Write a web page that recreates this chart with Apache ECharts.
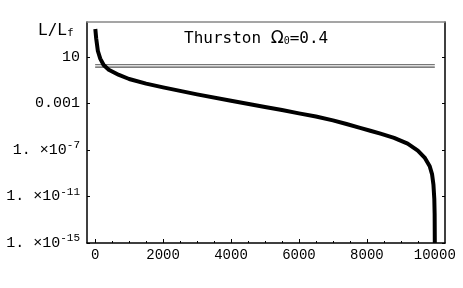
<!DOCTYPE html>
<html><head><meta charset="utf-8">
<script src="https://cdn.jsdelivr.net/npm/echarts@6/dist/echarts.min.js"></script>
<style>html,body{margin:0;padding:0;background:#fff}#c{width:463px;height:288px}</style>
</head><body><div id="c"></div>
<script>
// ---- data ----
const curveX = [5, 30, 80, 150, 250, 400, 700, 1000, 1500, 2000, 3000, 4000, 5000, 5500, 6000, 6500, 7000, 7400, 7800, 8100, 8400, 8800, 9200, 9500, 9700, 9850, 9920, 9960, 9985, 9995, 10000];
const curveL = [2.5e3, 4.0e2, 32, 7.1, 2.0, 0.79, 0.28, 0.126, 0.05, 0.024, 6.0e-3, 1.7e-3, 5.0e-4, 2.7e-4, 1.4e-4, 7.4e-5, 3.5e-5, 1.7e-5, 7.9e-6, 4.5e-6, 2.5e-6, 1.1e-6, 3.5e-7, 8.9e-8, 2.2e-8, 4.0e-9, 7.9e-10, 1.0e-10, 6.3e-12, 3.2e-13, 1.0e-15];
const refX = [0, 10000];
const refUpperL = [2.2, 2.2];
const refLowerL = [1.3, 1.3];
const xTickValues = [0, 2000, 4000, 6000, 8000, 10000];
const xMinorStep = 500;
const yTickValues = [1e-15, 1e-11, 1e-7, 1e-3, 10];
const yAxisName = 'L/L';
const yAxisSub = 'f';
const titleMain = 'Thurston ';
const titleOmega = 'Ω';
const titleSub = '0';
const titleTail = '=0.4';

// ---- build ----
const lg = v => Math.log10(v);
const pairs = (xs, ys) => xs.map((x, i) => [x, lg(ys[i])]);
const yTickExp = yTickValues.map(v => Math.round(lg(v)));
const xMinor = [];
for (let v = xTickValues[0]; v <= xTickValues[xTickValues.length - 1]; v += xMinorStep) xMinor.push(v);

const mono = 'Liberation Mono';
function yFmt(e) {
  e = Math.round(e);
  if (e === 1) return '{b|10}';
  if (e === -3) return '{b|0.001}';
  return '{b|1. ×10}{s|' + e + '}';
}
const chart = echarts.init(document.getElementById('c'), null, {renderer: 'canvas'});
const X = {min: -240, max: 10300};
const Y = {min: -15, max: 4};
chart.setOption({
  animation: false,
  backgroundColor: '#fff',
  grid: {left: 87, right: 18, top: 22, bottom: 45},
  title: {
    text: '{a|' + titleMain + '}{o|' + titleOmega + '}{s|' + titleSub + '}{a|' + titleTail + '}',
    left: 184, top: 30, padding: 0,
    textStyle: {
      fontWeight: 'normal',
      rich: {
        a: {fontFamily: 'DejaVu Sans Mono', fontSize: 16, fontWeight: 'normal', color: '#000'},
        o: {fontFamily: 'DejaVu Sans', fontSize: 17, fontWeight: 'normal', color: '#000'},
        s: {fontFamily: 'DejaVu Sans Mono', fontSize: 10, fontWeight: 'normal', color: '#000', padding: [6, 0, 0, 0]}
      }
    }
  },
  graphic: [{
    type: 'text', left: 38, top: 23,
    style: {
      text: '{a|' + yAxisName + '}{s|' + yAxisSub + '}',
      rich: {
        a: {fontFamily: 'DejaVu Sans Mono', fontSize: 16, fill: '#000'},
        s: {fontFamily: 'DejaVu Sans Mono', fontSize: 11, fill: '#000', padding: [5, 0, 0, 0]}
      }
    }
  }],
  xAxis: [{
    type: 'value', position: 'bottom', min: X.min, max: X.max,
    splitLine: {show: false},
    axisLine: {show: true, onZero: false, lineStyle: {color: '#000', width: 1.5}},
    axisTick: {show: true, inside: true, length: 2, customValues: xMinor, lineStyle: {color: '#000'}},
    axisLabel: {show: true, customValues: xTickValues, margin: 5, fontFamily: mono, fontSize: 14, color: '#000',
      formatter: v => String(Math.round(v))}
  }, {
    type: 'value', position: 'bottom', min: X.min, max: X.max,
    splitLine: {show: false},
    axisLine: {show: false, onZero: false},
    axisTick: {show: true, inside: true, length: 4, customValues: xTickValues, lineStyle: {color: '#000'}},
    axisLabel: {show: false}
  }, {
    type: 'value', position: 'top', min: X.min, max: X.max,
    splitLine: {show: false},
    axisLine: {show: true, onZero: false, lineStyle: {color: '#888', width: 1.5}},
    axisTick: {show: false}, axisLabel: {show: false}
  }],
  yAxis: [{
    type: 'value', position: 'left', min: Y.min, max: Y.max,
    splitLine: {show: false},
    axisLine: {show: true, onZero: false, lineStyle: {color: '#000', width: 1.5}},
    axisTick: {show: true, inside: true, length: 3, customValues: yTickExp, lineStyle: {color: '#000'}},
    axisLabel: {
      show: true, customValues: yTickExp, margin: 7, color: '#000',
      formatter: v => yFmt(v),
      rich: {
        b: {fontFamily: mono, fontSize: 15, color: '#000'},
        s: {fontFamily: mono, fontSize: 11, color: '#000', padding: [0, 0, 9, 0]}
      }
    }
  }, {
    type: 'value', position: 'right', min: Y.min, max: Y.max,
    splitLine: {show: false},
    axisLine: {show: true, onZero: false, lineStyle: {color: '#000', width: 1.5}},
    axisTick: {show: true, inside: true, length: 3, customValues: yTickExp, lineStyle: {color: '#000'}},
    axisLabel: {show: false}
  }],
  series: [{
    type: 'line', xAxisIndex: 0, yAxisIndex: 0,
    data: pairs(refX, refUpperL), showSymbol: false,
    lineStyle: {color: '#777', width: 1.2}, silent: true
  }, {
    type: 'line', xAxisIndex: 0, yAxisIndex: 0,
    data: pairs(refX, refLowerL), showSymbol: false,
    lineStyle: {color: '#555', width: 1.2}, silent: true
  }, {
    type: 'line', xAxisIndex: 0, yAxisIndex: 0,
    data: pairs(curveX, curveL), showSymbol: false, clip: true,
    lineStyle: {color: '#000', width: 4, join: 'round', cap: 'butt'}
  }]
});
</script></body></html>
